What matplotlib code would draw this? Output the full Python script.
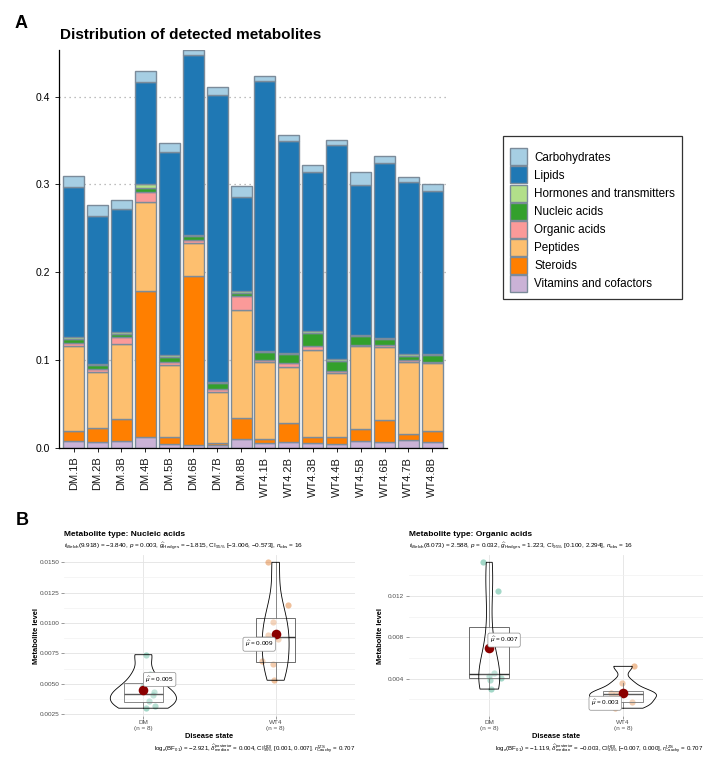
import numpy as np
import matplotlib
matplotlib.use("Agg")
import matplotlib.pyplot as plt
from matplotlib.patches import Patch, Polygon

plt.rcParams["font.family"] = ["Liberation Sans", "DejaVu Sans"]
plt.rcParams["mathtext.fontset"] = "custom"
plt.rcParams["mathtext.rm"] = "Liberation Sans"
plt.rcParams["mathtext.it"] = "Liberation Sans:italic"
plt.rcParams["mathtext.bf"] = "Liberation Sans:bold"

# ---------------- data: panel A ----------------
samples = ["DM.1B", "DM.2B", "DM.3B", "DM.4B", "DM.5B", "DM.6B", "DM.7B", "DM.8B",
           "WT4.1B", "WT4.2B", "WT4.3B", "WT4.4B", "WT4.5B", "WT4.6B", "WT4.7B", "WT4.8B"]
categories = ["Carbohydrates", "Lipids", "Hormones and transmitters", "Nucleic acids",
              "Organic acids", "Peptides", "Steroids", "Vitamins and cofactors"]
vitamins = [0.0080, 0.0060, 0.0072, 0.0117, 0.0045, 0.0034, 0.0027, 0.0102,
            0.0057, 0.0060, 0.0049, 0.0038, 0.0072, 0.0060, 0.0083, 0.0068]
steroids = [0.0113, 0.0163, 0.0254, 0.1673, 0.0076, 0.1924, 0.0030, 0.0231,
            0.0045, 0.0224, 0.0072, 0.0079, 0.0136, 0.0251, 0.0076, 0.0125]
peptides = [0.0966, 0.0637, 0.0856, 0.1005, 0.0826, 0.0372, 0.0576, 0.1239,
            0.0871, 0.0640, 0.0996, 0.0739, 0.0947, 0.0837, 0.0818, 0.0777]
organic_acids = [0.0034, 0.0038, 0.0076, 0.0122, 0.0034, 0.0037, 0.0030, 0.0151,
                 0.0023, 0.0046, 0.0038, 0.0019, 0.0019, 0.0022, 0.0019, 0.0011]
nucleic_acids = [0.0042, 0.0045, 0.0037, 0.0038, 0.0053, 0.0042, 0.0079, 0.0038,
                 0.0095, 0.0094, 0.0152, 0.0114, 0.0095, 0.0065, 0.0053, 0.0072]
hormones = [0.0026, 0.0015, 0.0020, 0.0050, 0.0023, 0.0019, 0.0012, 0.0019,
            0.0011, 0.0012, 0.0019, 0.0019, 0.0015, 0.0019, 0.0015, 0.0015]
lipids = [0.1713, 0.1682, 0.1409, 0.1162, 0.2315, 0.2046, 0.3262, 0.1080,
          0.3073, 0.2417, 0.1815, 0.2435, 0.1713, 0.1985, 0.1959, 0.1860]
carbohydrates = [0.0116, 0.0126, 0.0099, 0.0125, 0.0098, 0.0056, 0.0091, 0.0125,
                 0.0064, 0.0064, 0.0079, 0.0065, 0.0144, 0.0079, 0.0065, 0.0077]

# ---------------- data: panel B ----------------
groups = ["DM", "WT4"]
nuc_dm = [0.0074, 0.0058, 0.0048, 0.0043, 0.0041, 0.0036, 0.0032, 0.0030]
nuc_wt = [0.0150, 0.0115, 0.0101, 0.0090, 0.0087, 0.0069, 0.0066, 0.0053]
org_dm = [0.01526, 0.01245, 0.0079, 0.0046, 0.0043, 0.0041, 0.0039, 0.0030]
org_wt = [0.0052, 0.0036, 0.00261, 0.0026, 0.0025, 0.00178, 0.0016, 0.00115]

nuc_subtitle = (r"$t_{\mathrm{Welch}}$(9.918) = −3.840, $p$ = 0.003, "
                r"$\widehat{g}_{\mathrm{Hedges}}$ = −1.815, CI$_{95\%}$ [−3.006, −0.573], "
                r"$n_{\mathrm{obs}}$ = 16")
org_subtitle = (r"$t_{\mathrm{Welch}}$(8.073) = 2.588, $p$ = 0.032, "
                r"$\widehat{g}_{\mathrm{Hedges}}$ = 1.223, CI$_{95\%}$ [0.100, 2.294], "
                r"$n_{\mathrm{obs}}$ = 16")
nuc_caption = (r"log$_e$(BF$_{01}$) = −2.921, $\widehat{\delta}_{\mathrm{median}}^{\mathrm{posterior}}$ = 0.004, "
               r"CI$_{95\%}^{\mathrm{HDI}}$ [0.001, 0.007], $r_{\mathrm{Cauchy}}^{\mathrm{JZS}}$ = 0.707")
org_caption = (r"log$_e$(BF$_{01}$) = −1.119, $\widehat{\delta}_{\mathrm{median}}^{\mathrm{posterior}}$ = −0.003, "
               r"CI$_{95\%}^{\mathrm{HDI}}$ [−0.007, 0.000], $r_{\mathrm{Cauchy}}^{\mathrm{JZS}}$ = 0.707")

# ---------------- layout helpers ----------------
W, H = 718, 769
fig = plt.figure(figsize=(W / 100, H / 100), dpi=100)


def fx(x):
    return x / W


def fy(y):
    return 1 - y / H


# ---------------- panel A ----------------
pal = {"Carbohydrates": "#A6CEE3", "Lipids": "#1F78B4", "Hormones and transmitters": "#B2DF8A",
       "Nucleic acids": "#33A02C", "Organic acids": "#FB9A99", "Peptides": "#FDBF6F",
       "Steroids": "#FF7F00", "Vitamins and cofactors": "#CAB2D6"}
stack = [("Vitamins and cofactors", vitamins), ("Steroids", steroids), ("Peptides", peptides),
         ("Organic acids", organic_acids), ("Nucleic acids", nucleic_acids),
         ("Hormones and transmitters", hormones), ("Lipids", lipids), ("Carbohydrates", carbohydrates)]
edge = "#7b8b9a"

axA = fig.add_axes([fx(59.3), fy(447.7), fx(446.7) - fx(59.3), fy(50) - fy(447.7)])
xpos = np.arange(len(samples))
bottom = np.zeros(len(samples))
for name, vals in stack:
    vals = np.array(vals)
    axA.bar(xpos, vals, bottom=bottom, width=0.88, color=pal[name], edgecolor=edge, linewidth=1.0)
    bottom += vals
axA.set_xlim(-0.6, len(samples) - 0.4)
axA.set_ylim(0, bottom.max())
axA.set_yticks([0, 0.1, 0.2, 0.3, 0.4])
axA.set_yticklabels(["0.0", "0.1", "0.2", "0.3", "0.4"])
axA.set_xticks(xpos)
axA.set_xticklabels(samples, rotation=90)
axA.tick_params(axis="y", labelsize=7.5, length=3, width=0.6)
axA.tick_params(axis="x", labelsize=8, length=3, width=0.6, labelcolor="#1a1a1a")
axA.yaxis.grid(True, linestyle=(0, (1, 3)), color="#a8a8a8", linewidth=0.9)
axA.set_axisbelow(True)
for s in ["top", "right"]:
    axA.spines[s].set_visible(False)
for s in ["left", "bottom"]:
    axA.spines[s].set_linewidth(0.9)

fig.text(fx(15), fy(28.3), "A", fontsize=13, fontweight="bold", va="baseline")
fig.text(fx(60), fy(39.3), "Distribution of detected metabolites", fontsize=11,
         fontweight="bold", va="baseline")

handles = [Patch(facecolor=pal[c], edgecolor=edge, linewidth=1.0, label=c) for c in categories]
leg = fig.legend(handles=handles, loc="center left", bbox_to_anchor=(fx(502.7), fy(217.7)),
                 frameon=True, fancybox=False, edgecolor="black", fontsize=8.4,
                 title=" ", title_fontsize=3,
                 handlelength=1.5, handleheight=1.86, labelspacing=0.1, handletextpad=0.6,
                 borderpad=0.6, borderaxespad=0)
leg.get_frame().set_linewidth(0.9)


# ---------------- panel B ----------------
def kde(vals, grid):
    v = np.asarray(vals)
    n = len(v)
    iqr = np.percentile(v, 75) - np.percentile(v, 25)
    bw = 0.9 * min(v.std(ddof=1), iqr / 1.34) * n ** -0.2
    z = (grid[:, None] - v[None, :]) / bw
    return np.exp(-0.5 * z ** 2).sum(axis=1) / (n * bw * np.sqrt(2 * np.pi))


def stats_panel(ax, dm, wt, jit, label_offsets, yticks, yminor, fmt):
    data = [np.asarray(dm), np.asarray(wt)]
    cols = ["#1B9E77", "#D95F02"]
    # points
    for i, (vals, c) in enumerate(zip(data, cols)):
        ax.scatter(i + 1 + np.asarray(jit[i]), vals, s=20, color=c, alpha=0.4, linewidths=0, zorder=2)
    # box
    ax.boxplot(data, positions=[1, 2], widths=0.3, whis=1.5, showfliers=False, showcaps=False,
               patch_artist=True, manage_ticks=False,
               boxprops=dict(facecolor=(1, 1, 1, 0.2), edgecolor="#555555", linewidth=0.6),
               medianprops=dict(color="#333333", linewidth=1.0),
               whiskerprops=dict(color="#555555", linewidth=0.6), zorder=3)
    # violins (area scaled)
    grids = [np.linspace(v.min(), v.max(), 200) for v in data]
    dens = [kde(v, g) for v, g in zip(data, grids)]
    scale = 0.25 / max(d.max() for d in dens)
    for i, (g, d) in enumerate(zip(grids, dens)):
        w = d * scale
        xs = np.concatenate([i + 1 - w, (i + 1 + w)[::-1]])
        ys = np.concatenate([g, g[::-1]])
        ax.add_patch(Polygon(np.column_stack([xs, ys]), closed=True, facecolor=(1, 1, 1, 0.2),
                             edgecolor="black", linewidth=0.6, zorder=4))
    # means
    for i, vals in enumerate(data):
        m = vals.mean()
        ax.scatter([i + 1], [m], s=48, color="#8B0000", zorder=6, linewidths=0)
        dx, dy, ha, va = label_offsets[i]
        ax.annotate(r"$\widehat{\mu}$" + " = {:.3f}".format(m), xy=(i + 1, m), xytext=(dx, dy),
                    textcoords="offset points", fontsize=4.6, ha=ha, va=va, zorder=7,
                    bbox=dict(boxstyle="round,pad=0.3", fc="white", ec="#8c8c8c", lw=0.5))
    allv = np.concatenate(data)
    rng = allv.max() - allv.min()
    ax.set_xlim(0.4, 2.6)
    ax.set_ylim(allv.min() - 0.05 * rng, allv.max() + 0.05 * rng)
    ax.set_xticks([1, 2])
    ax.set_xticklabels(["{}\n(n = {})".format(g, len(v)) for g, v in zip(groups, data)])
    ax.set_yticks(yticks)
    ax.set_yticklabels([fmt.format(t) for t in yticks])
    ax.set_yticks(yminor, minor=True)
    ax.yaxis.grid(True, which="major", color="#e3e3e3", linewidth=0.6)
    ax.yaxis.grid(True, which="minor", color="#f1f1f1", linewidth=0.5)
    ax.xaxis.grid(True, which="major", color="#e3e3e3", linewidth=0.6)
    ax.set_axisbelow(True)
    ax.tick_params(which="major", labelsize=4.6, labelcolor="#4d4d4d", length=2, width=0.4,
                   color="#4d4d4d", pad=1.5)
    ax.tick_params(which="minor", length=0)
    for s in ax.spines.values():
        s.set_visible(False)


axL = fig.add_axes([fx(64), fy(715.5), fx(355) - fx(64), fy(555) - fy(715.5)])
stats_panel(axL, nuc_dm, nuc_wt,
            [[0.02, 0.05, 0.0, 0.08, 0.07, 0.04, 0.09, 0.02],
             [-0.06, 0.09, -0.02, -0.06, 0.02, -0.10, -0.02, -0.015]],
            [(1.4, 3.7, "left", "bottom"), (-1.6, -4.0, "right", "top")],
            [0.0025, 0.0050, 0.0075, 0.0100, 0.0125, 0.0150],
            [0.00375, 0.00625, 0.00875, 0.01125, 0.01375], "{:.4f}")

axR = fig.add_axes([fx(409), fy(715.5), fx(703.3) - fx(409), fy(555) - fy(715.5)])
stats_panel(axR, org_dm, org_wt,
            [[-0.045, 0.063, 0.05, 0.037, 0.0, 0.09, 0.003, 0.015],
             [0.08, -0.007, -0.09, 0.0, -0.05, 0.07, -0.1, -0.06]],
            [(0.4, 2.3, "left", "bottom"), (-2.6, -3.8, "right", "top")],
            [0.004, 0.008, 0.012], [0.002, 0.006, 0.010, 0.014], "{:.3f}")

fig.text(fx(16), fy(525), "B", fontsize=13, fontweight="bold", va="baseline")

for x0, x1, title, sub, cap in [(64, 355, "Metabolite type: Nucleic acids", nuc_subtitle, nuc_caption),
                                (409, 703.3, "Metabolite type: Organic acids", org_subtitle, org_caption)]:
    fig.text(fx(x0), fy(536.5), title, fontsize=6, fontweight="bold", va="baseline")
    fig.text(fx(x0), fy(548.5), sub, fontsize=4.6, va="baseline")
    fig.text(fx((x0 + x1) / 2), fy(738), "Disease state", fontsize=5.4, fontweight="bold",
             ha="center", va="baseline")
    fig.text(fx(x1), fy(750.5), cap, fontsize=4.4, ha="right", va="baseline")
    fig.text(fx(x0 - 28), fy(635.5), "Metabolite level", fontsize=5.4, fontweight="bold",
             rotation=90, ha="center", va="center")

fig.savefig("out.png", dpi=100)
